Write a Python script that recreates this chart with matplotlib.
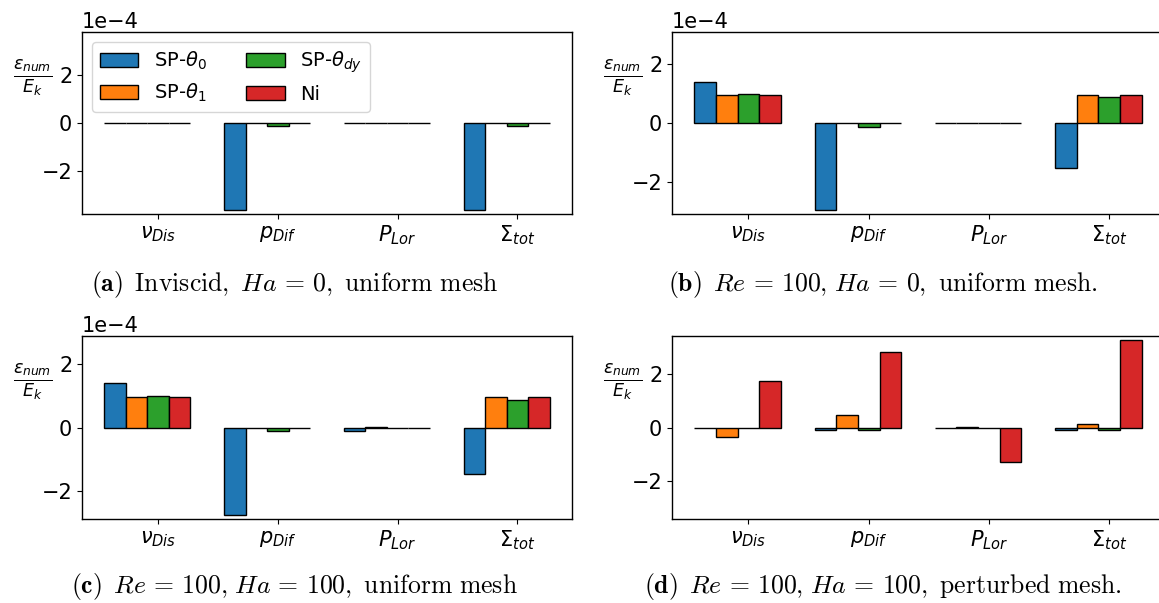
import numpy as np
import matplotlib
matplotlib.use("Agg")
import matplotlib.pyplot as plt

# energy error terms, in units of 1e-4
terms = [r"$\nu_{Dis}$", r"$p_{Dif}$", r"$P_{Lor}$", r"$\Sigma_{tot}$"]
schemes = [r"SP-$\theta_0$", r"SP-$\theta_1$", r"SP-$\theta_{dy}$", "Ni"]
colors = ["#1f77b4", "#ff7f0e", "#2ca02c", "#d62728"]

# (a) inviscid, Ha = 0, uniform mesh
a_sp0 = [0.0, -3.60, 0.0, -3.60]
a_sp1 = [0.0, -0.01, 0.0, -0.01]
a_spdy = [0.0, -0.14, 0.0, -0.14]
a_ni = [0.0, 0.0, 0.0, 0.0]

# (b) Re = 100, Ha = 0, uniform mesh
b_sp0 = [1.40, -2.94, 0.0, -1.52]
b_sp1 = [0.95, -0.01, 0.0, 0.95]
b_spdy = [0.97, -0.12, 0.0, 0.87]
b_ni = [0.95, -0.01, 0.0, 0.95]

# (c) Re = 100, Ha = 100, uniform mesh
c_sp0 = [1.39, -2.75, -0.12, -1.46]
c_sp1 = [0.97, -0.01, 0.01, 0.97]
c_spdy = [0.98, -0.12, -0.01, 0.88]
c_ni = [0.97, -0.01, -0.01, 0.97]

# (d) Re = 100, Ha = 100, perturbed mesh
d_sp0 = [0.0, -0.10, -0.01, -0.10]
d_sp1 = [-0.37, 0.47, 0.02, 0.14]
d_spdy = [0.0, -0.10, -0.03, -0.10]
d_ni = [1.72, 2.81, -1.29, 3.25]

captions = [
    r"$\mathbf{(a)}\ \,\mathrm{Inviscid,}\ Ha\,=\,0\mathrm{,\ uniform\ mesh}$",
    r"$\mathbf{(b)}\ \,Re\,=\,100\mathrm{,}\ Ha\,=\,0\mathrm{,\ uniform\ mesh.}$",
    r"$\mathbf{(c)}\ \,Re\,=\,100\mathrm{,}\ Ha\,=\,100\mathrm{,\ uniform\ mesh}$",
    r"$\mathbf{(d)}\ \,Re\,=\,100\mathrm{,}\ Ha\,=\,100\mathrm{,\ perturbed\ mesh.}$",
]

panels = [
    (a_sp0, a_sp1, a_spdy, a_ni),
    (b_sp0, b_sp1, b_spdy, b_ni),
    (c_sp0, c_sp1, c_spdy, c_ni),
    (d_sp0, d_sp1, d_spdy, d_ni),
]

W, H = 1159, 603
fig = plt.figure(figsize=(W / 100, H / 100), dpi=100)

# axes boxes in pixels: left, top, right, bottom
boxes = [(82, 32, 572, 214), (672, 32, 1164, 214),
         (82, 336, 572, 519), (672, 336, 1164, 519)]
cap_pos = [(295, 285), (883, 285), (294, 587), (883, 587)]

x = np.arange(len(terms))
w = 0.18

for i, (series, box) in enumerate(zip(panels, boxes)):
    l, t, r, b = box
    ax = fig.add_axes([l / W, 1 - b / H, (r - l) / W, (b - t) / H])
    for k, vals in enumerate(series):
        ax.bar(x + (k - 2) * w, np.array(vals) * 1e-4, w, color=colors[k],
               edgecolor="black", linewidth=1.0, label=schemes[k])
    m = 1.05 * max(abs(v) for s in series for v in s) * 1e-4
    ax.set_ylim(-m, m)
    ax.set_xticks(x)
    ax.set_xticklabels(terms)
    ax.tick_params(labelsize=15)
    ax.ticklabel_format(axis="y", style="sci", scilimits=(0, 0))
    ax.yaxis.get_offset_text().set_fontsize(15)
    ax.set_ylabel(r"$\frac{\varepsilon_{num}}{E_k}$", rotation=0, fontsize=18)
    ax.yaxis.set_label_coords(-0.1, 0.64)
    for sp in ax.spines.values():
        sp.set_linewidth(1.0)
    if i == 0:
        ax.legend(loc="upper left", ncol=2, fontsize=14)
    if i == 3:
        ax.yaxis.get_offset_text().set_visible(False)
    cx, cy = cap_pos[i]
    fig.text(cx / W, 1 - cy / H, captions[i], ha="center", va="center",
             fontsize=18.5, math_fontfamily="cm")

fig.savefig("out.png", dpi=100)
